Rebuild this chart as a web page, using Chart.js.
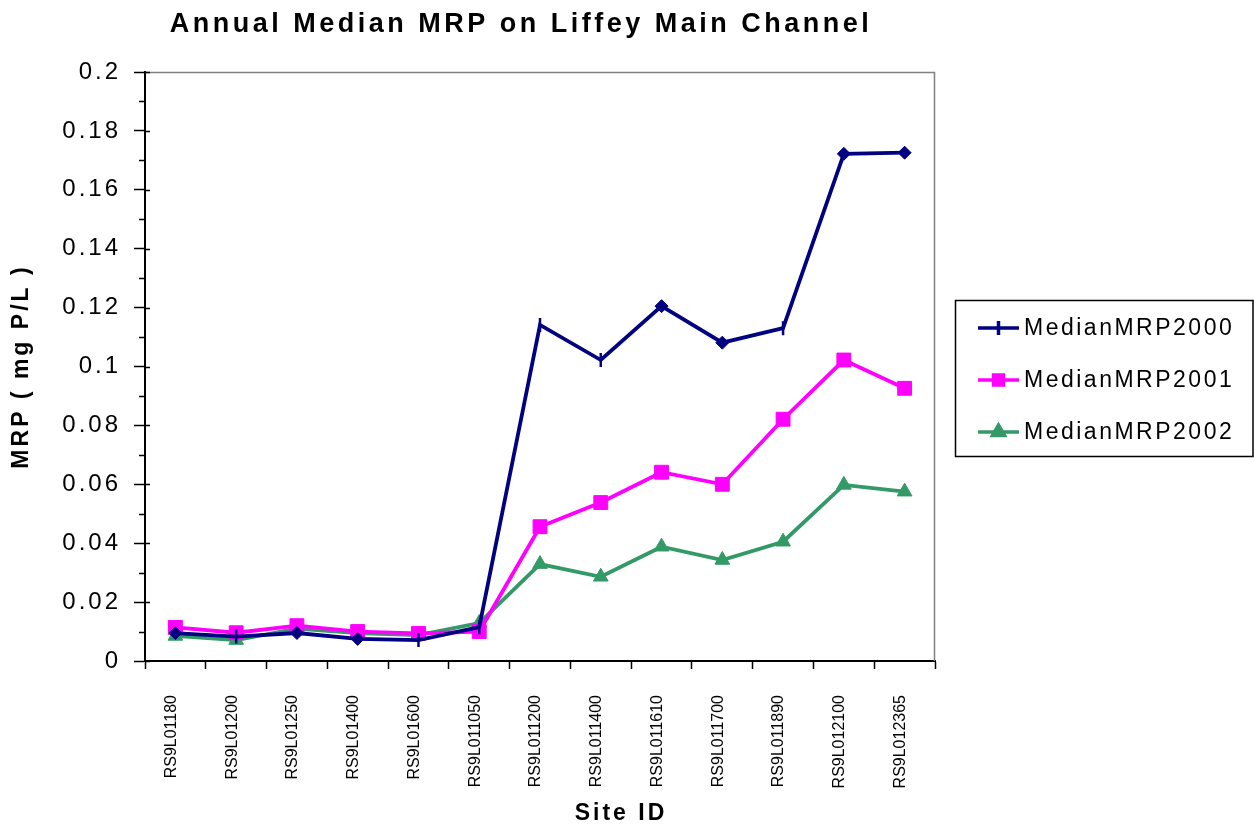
<!DOCTYPE html>
<html>
<head>
<meta charset="utf-8">
<script src="https://cdn.jsdelivr.net/npm/chart.js@4/dist/chart.umd.min.js"></script>
<style>
  html, body { margin: 0; padding: 0; background: #ffffff; }
  #wrap { position: relative; width: 1254px; height: 827px; }
</style>
</head>
<body>
<div id="wrap"><canvas id="c" width="1254" height="827"></canvas></div>
<script>
const chartTitle = 'Annual Median MRP on Liffey Main Channel';
const xAxisTitle = 'Site ID';
const yAxisTitle = 'MRP ( mg P/L )';

const sites = ['RS9L01180', 'RS9L01200', 'RS9L01250', 'RS9L01400', 'RS9L01600', 'RS9L011050',
  'RS9L011200', 'RS9L011400', 'RS9L011610', 'RS9L011700', 'RS9L011890', 'RS9L012100', 'RS9L012365'];

const seriesNames = ['MedianMRP2000', 'MedianMRP2001', 'MedianMRP2002'];

const mrp2000 = [0.0095, 0.0083, 0.0095, 0.0075, 0.0071, 0.0115, 0.1141, 0.1022, 0.1205, 0.1081, 0.1130, 0.1722, 0.1726];
const mrp2001 = [0.0114, 0.0096, 0.0120, 0.0100, 0.0094, 0.0100, 0.0456, 0.0538, 0.0641, 0.0600, 0.0821, 0.1022, 0.0926];
const mrp2002 = [0.0085, 0.0071, 0.0110, 0.0095, 0.0088, 0.0129, 0.0329, 0.0286, 0.0388, 0.0343, 0.0405, 0.0598, 0.0575];

const yTickValues = [0, 0.02, 0.04, 0.06, 0.08, 0.1, 0.12, 0.14, 0.16, 0.18, 0.2];
const yTickLabels = ['0', '0.02', '0.04', '0.06', '0.08', '0.1', '0.12', '0.14', '0.16', '0.18', '0.2'];

const FONT = "'Liberation Sans', Arial, sans-serif";
const NAVY = '#000080', MAGENTA = '#FF00FF', GREEN = '#339966';

// marker shape per point for the 2000 series (mix of diamonds and plus ticks as in the picture)
const navyStyles = ['rectRot', 'line', 'rectRot', 'rectRot', 'line', 'line', 'line', 'line', 'rectRot', 'rectRot', 'line', 'rectRot', 'rectRot'];

const extrasPlugin = {
  id: 'extras',
  beforeDraw(chart) {
    const ctx = chart.ctx;
    ctx.letterSpacing = '3px';
    const xs = chart.scales.x;
    if (xs && !xs._lsPatched) {
      const orig = xs.drawLabels;
      xs.drawLabels = function (a) {
        const c = this.ctx; const prev = c.letterSpacing;
        c.letterSpacing = '0px';
        orig.call(this, a);
        c.letterSpacing = prev;
      };
      xs._lsPatched = true;
    }
  },
  beforeDatasetsDraw(chart) {
    const ctx = chart.ctx, a = chart.chartArea, y = chart.scales.y;
    ctx.save();
    // grey top and right frame of the plot area
    ctx.strokeStyle = '#808080';
    ctx.lineWidth = 1.5;
    ctx.beginPath();
    ctx.moveTo(a.left, a.top + 0.5);
    ctx.lineTo(a.right - 0.5, a.top + 0.5);
    ctx.lineTo(a.right - 0.5, a.bottom);
    ctx.stroke();
    // y axis: major ticks cross the axis, minor ticks outside
    ctx.strokeStyle = '#000';
    ctx.lineWidth = 1.5;
    ctx.beginPath();
    for (let i = 0; i < yTickValues.length; i++) {
      const py = Math.round(y.getPixelForValue(yTickValues[i])) + 0.5;
      ctx.moveTo(a.left, py); ctx.lineTo(a.left + 5, py);
      if (i < yTickValues.length - 1) {
        const mid = (yTickValues[i] + yTickValues[i + 1]) / 2;
        const pm = Math.round(y.getPixelForValue(mid)) + 0.5;
        ctx.moveTo(a.left - 6, pm); ctx.lineTo(a.left + 1, pm);
      }
    }
    ctx.stroke();
    ctx.restore();
  },
  afterDraw(chart) {
    const ctx = chart.ctx;
    ctx.save();
    ctx.fillStyle = '#000';
    // chart title
    ctx.letterSpacing = '3.5px';
    ctx.font = 'bold 27px ' + FONT;
    ctx.textAlign = 'center';
    ctx.textBaseline = 'middle';
    ctx.fillText(chartTitle, 521, 25);
    // x axis title
    ctx.letterSpacing = '3px';
    ctx.font = 'bold 23px ' + FONT;
    ctx.fillText(xAxisTitle, 621, 814);
    // legend
    ctx.letterSpacing = '2.5px';
    ctx.strokeStyle = '#000';
    ctx.lineWidth = 1.5;
    ctx.strokeRect(955.5, 300.5, 297.5, 156);
    const rowsY = [328, 380, 432];
    const ds = chart.data.datasets;
    ctx.font = '23px ' + FONT;
    ctx.textAlign = 'left';
    for (let i = 0; i < ds.length; i++) {
      const d = ds[i];
      ctx.strokeStyle = d.borderColor;
      ctx.lineWidth = 3.5;
      ctx.beginPath();
      ctx.moveTo(978, rowsY[i]); ctx.lineTo(1019, rowsY[i]);
      ctx.stroke();
      const st = i === 0 ? 'line' : d.pointStyle;
      ctx.fillStyle = d.pointBackgroundColor;
      ctx.strokeStyle = d.pointBorderColor;
      Chart.helpers.drawPoint(ctx, {
        pointStyle: st,
        rotation: i === 0 ? 90 : 0,
        radius: 7,
        borderWidth: i === 0 ? 2.5 : 1
      }, 998.5, rowsY[i]);
      ctx.fillStyle = '#000';
      ctx.fillText(seriesNames[i], 1024, rowsY[i] + 1);
    }
    ctx.restore();
    ctx.letterSpacing = '0px';
  }
};

const ctx = document.getElementById('c').getContext('2d');
new Chart(ctx, {
  type: 'line',
  data: {
    labels: sites,
    datasets: [
      {
        label: seriesNames[0], data: mrp2000,
        borderColor: NAVY, backgroundColor: NAVY, borderWidth: 3.8,
        pointStyle: navyStyles,
        pointRotation: navyStyles.map(s => s === 'line' ? 90 : 0),
        pointRadius: navyStyles.map(s => s === 'line' ? 7 : 6.5),
        pointBorderWidth: navyStyles.map(s => s === 'line' ? 2.5 : 1),
        pointBackgroundColor: NAVY, pointBorderColor: NAVY,
        tension: 0
      },
      {
        label: seriesNames[1], data: mrp2001,
        borderColor: MAGENTA, backgroundColor: MAGENTA, borderWidth: 3.8,
        pointStyle: 'rect', pointRadius: 9.8, pointBorderWidth: 1,
        pointBackgroundColor: MAGENTA, pointBorderColor: MAGENTA,
        tension: 0
      },
      {
        label: seriesNames[2], data: mrp2002,
        borderColor: GREEN, backgroundColor: GREEN, borderWidth: 3.8,
        pointStyle: 'triangle', pointRadius: 8.5, pointBorderWidth: 1,
        pointBackgroundColor: GREEN, pointBorderColor: GREEN,
        tension: 0
      }
    ]
  },
  options: {
    responsive: false,
    animation: false,
    devicePixelRatio: 1,
    layout: { padding: { top: 72, right: 319, bottom: 0, left: 0 } },
    plugins: {
      legend: { display: false },
      title: { display: false },
      tooltip: { enabled: false }
    },
    scales: {
      x: {
        type: 'category',
        offset: true,
        grid: { offset: true, drawOnChartArea: false, drawTicks: true, tickLength: 8, tickColor: '#000', tickWidth: 1.5 },
        border: { display: true, color: '#000', width: 2 },
        ticks: {
          autoSkip: false, minRotation: 90, maxRotation: 90, labelOffset: -4,
          font: { family: FONT, size: 16 }, color: '#000', padding: 26
        },
        afterFit(s) { s.height = 166; }
      },
      y: {
        min: 0, max: 0.2,
        afterBuildTicks(s) { s.ticks = yTickValues.map(v => ({ value: v })); },
        ticks: {
          font: { family: FONT, size: 24 }, color: '#000', padding: 13,
          callback: (v, i) => yTickLabels[i]
        },
        grid: { drawOnChartArea: false, drawTicks: true, tickLength: 11, tickColor: '#000', tickWidth: 1.5 },
        border: { display: true, color: '#000', width: 2 },
        title: {
          display: true, text: yAxisTitle, color: '#000',
          font: { family: FONT, size: 23, weight: 'bold' },
          padding: { top: 8, bottom: 0 }
        },
        afterFit(s) { s.width = 145; }
      }
    }
  },
  plugins: [extrasPlugin]
});
</script>
</body>
</html>
